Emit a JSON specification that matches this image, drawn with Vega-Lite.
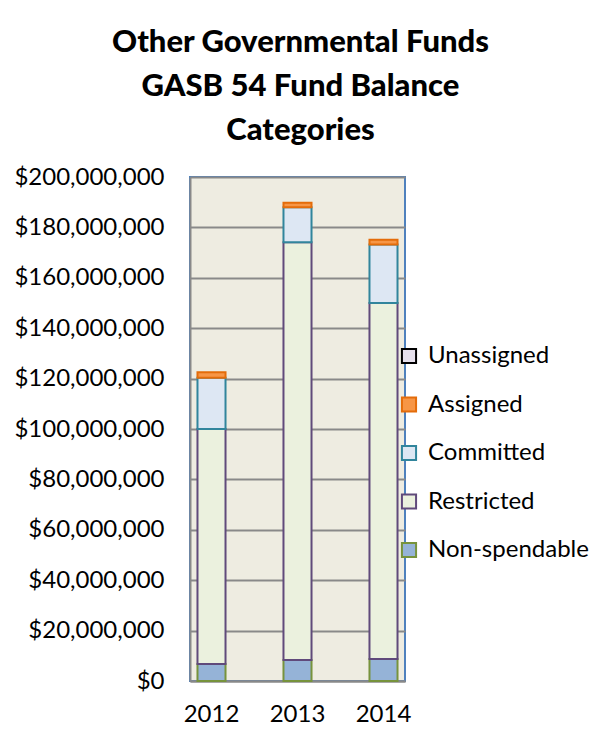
{
  "$schema": "https://vega.github.io/schema/vega-lite/v6.json",
  "autosize": "none",
  "padding": {"left": 190, "top": 177, "right": 195, "bottom": 51},
  "width": 215,
  "height": 504,
  "background": "white",
  "title": {
    "text": ["Other Governmental Funds", "GASB 54 Fund Balance", "Categories"],
    "font": "Lato",
    "fontSize": 31,
    "fontWeight": 900,
    "color": "#000000",
    "lineHeight": 44,
    "anchor": "middle",
    "dx": 3,
    "offset": 18
  },
  "data": {
    "values": [
      {"year": "2012", "category": "Non-spendable", "amount": 6700000},
      {"year": "2012", "category": "Restricted", "amount": 93300000},
      {"year": "2012", "category": "Committed", "amount": 20300000},
      {"year": "2012", "category": "Assigned", "amount": 2200000},
      {"year": "2012", "category": "Unassigned", "amount": 0},
      {"year": "2013", "category": "Non-spendable", "amount": 8300000},
      {"year": "2013", "category": "Restricted", "amount": 165800000},
      {"year": "2013", "category": "Committed", "amount": 13900000},
      {"year": "2013", "category": "Assigned", "amount": 1800000},
      {"year": "2013", "category": "Unassigned", "amount": 0},
      {"year": "2014", "category": "Non-spendable", "amount": 8700000},
      {"year": "2014", "category": "Restricted", "amount": 141300000},
      {"year": "2014", "category": "Committed", "amount": 23200000},
      {"year": "2014", "category": "Assigned", "amount": 1900000},
      {"year": "2014", "category": "Unassigned", "amount": 0}
    ]
  },
  "transform": [
    {"filter": "datum.amount > 0"},
    {"calculate": "indexof(['Non-spendable', 'Restricted', 'Committed', 'Assigned', 'Unassigned'], datum.category)", "as": "stackOrder"}
  ],
  "mark": {"type": "bar", "strokeWidth": 2},
  "encoding": {
    "x": {
      "field": "year",
      "type": "nominal",
      "scale": {"paddingInner": 0.674, "paddingOuter": 0.087},
      "axis": {
        "title": null,
        "labelAngle": 0,
        "labelFont": "Lato",
        "labelFontSize": 24,
        "labelColor": "#000000",
        "labelPadding": 21,
        "ticks": false,
        "domainColor": "#898989",
        "domainWidth": 2
      }
    },
    "y": {
      "field": "amount",
      "type": "quantitative",
      "stack": "zero",
      "scale": {"domain": [0, 200000000], "nice": false},
      "axis": {
        "title": null,
        "values": [0, 20000000, 40000000, 60000000, 80000000, 100000000, 120000000, 140000000, 160000000, 180000000, 200000000],
        "format": "$,.0f",
        "labelFont": "Lato",
        "labelFontSize": 24,
        "labelColor": "#000000",
        "labelPadding": 26,
        "ticks": false,
        "grid": true,
        "gridColor": "#898989",
        "gridWidth": 2,
        "domainColor": "#898989",
        "domainWidth": 2
      }
    },
    "fill": {
      "field": "category",
      "type": "nominal",
      "scale": {
        "domain": ["Unassigned", "Assigned", "Committed", "Restricted", "Non-spendable"],
        "range": ["#E6E0EC", "#F79646", "#DDE7F3", "#EBF1DE", "#95B3D7"]
      },
      "legend": {
        "title": null,
        "orient": "none",
        "legendX": 207,
        "legendY": 167,
        "symbolType": "square",
        "symbolSize": 200,
        "symbolStrokeWidth": 2,
        "labelFont": "Lato",
        "labelFontSize": 24,
        "labelColor": "#000000",
        "labelOffset": 7,
        "labelLimit": 0,
        "rowPadding": 24.5
      }
    },
    "stroke": {
      "field": "category",
      "type": "nominal",
      "scale": {
        "domain": ["Unassigned", "Assigned", "Committed", "Restricted", "Non-spendable"],
        "range": ["#000000", "#E46C0A", "#31859C", "#604A7B", "#77933C"]
      },
      "legend": null
    },
    "order": {"field": "stackOrder", "type": "quantitative", "sort": "ascending"}
  },
  "config": {
    "view": {"fill": "#EEECE1", "stroke": "#4F81BD", "strokeWidth": 2},
    "axis": {"gridCap": "butt"}
  }
}
